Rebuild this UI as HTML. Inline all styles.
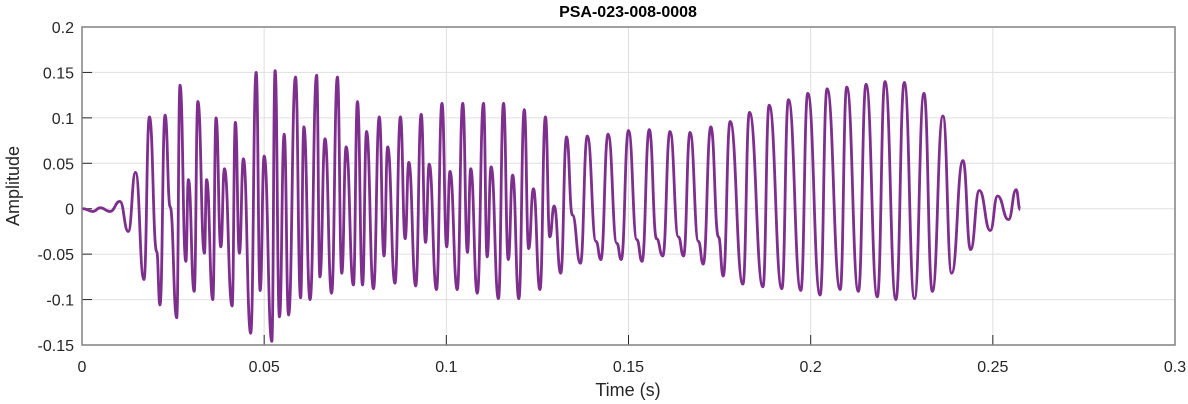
<!DOCTYPE html>
<html><head><meta charset="utf-8"><style>
body{margin:0;background:#fff;width:1188px;height:404px;overflow:hidden}
svg{display:block;font-family:"Liberation Sans",Arial,sans-serif}
</style></head><body>
<svg id="chart" width="1188" height="404"></svg>
<script>
const xTicks=[0,0.05,0.1,0.15,0.2,0.25,0.3];
const xTickLabels=["0","0.05","0.1","0.15","0.2","0.25","0.3"];
const yTicks=[0.2,0.15,0.1,0.05,0,-0.05,-0.1,-0.15];
const yTickLabels=["0.2","0.15","0.1","0.05","0","-0.05","-0.1","-0.15"];
const times=[0.0002,0.0030,0.0050,0.0077,0.0104,0.0127,0.0147,0.0170,0.0185,0.0205,0.0214,0.0228,0.0242,0.0260,0.0269,0.0285,0.0292,0.0308,0.0318,0.0336,0.0342,0.0359,0.0368,0.0381,0.0391,0.0412,0.0421,0.0432,0.0443,0.0463,0.0478,0.0489,0.0500,0.0521,0.0530,0.0542,0.0555,0.0567,0.0586,0.0600,0.0609,0.0626,0.0644,0.0653,0.0667,0.0685,0.0701,0.0713,0.0725,0.0745,0.0756,0.0770,0.0781,0.0800,0.0816,0.0829,0.0839,0.0859,0.0874,0.0887,0.0897,0.0916,0.0931,0.0943,0.0953,0.0973,0.0988,0.1001,0.1010,0.1030,0.1045,0.1058,0.1067,0.1085,0.1102,0.1112,0.1123,0.1143,0.1157,0.1170,0.1182,0.1199,0.1214,0.1226,0.1239,0.1257,0.1272,0.1284,0.1296,0.1314,0.1330,0.1346,0.1368,0.1387,0.1411,0.1424,0.1444,0.1468,0.1480,0.1500,0.1523,0.1537,0.1557,0.1577,0.1594,0.1614,0.1637,0.1651,0.1669,0.1692,0.1705,0.1726,0.1747,0.1760,0.1779,0.1814,0.1832,0.1869,0.1886,0.1921,0.1939,0.1973,0.1992,0.2026,0.2045,0.2081,0.2099,0.2131,0.2152,0.2183,0.2204,0.2234,0.2257,0.2285,0.2311,0.2334,0.2363,0.2387,0.2418,0.2439,0.2463,0.2493,0.2513,0.2543,0.2564,0.2575];
const amps=[0.000,-0.003,0.001,-0.003,0.008,-0.025,0.040,-0.078,0.101,-0.047,-0.106,0.103,0.002,-0.120,0.136,-0.058,0.032,-0.091,0.118,-0.049,0.032,-0.100,0.100,-0.042,0.044,-0.107,0.095,-0.049,0.055,-0.137,0.150,-0.090,0.058,-0.146,0.152,-0.119,0.082,-0.117,0.145,-0.098,0.090,-0.100,0.147,-0.075,0.077,-0.093,0.145,-0.071,0.068,-0.084,0.118,-0.084,0.085,-0.088,0.101,-0.052,0.068,-0.082,0.101,-0.033,0.051,-0.085,0.104,-0.037,0.049,-0.089,0.116,-0.042,0.041,-0.089,0.116,-0.048,0.044,-0.093,0.116,-0.053,0.046,-0.099,0.116,-0.056,0.037,-0.099,0.109,-0.044,0.022,-0.089,0.101,-0.031,0.003,-0.071,0.079,-0.007,-0.060,0.080,-0.036,-0.056,0.082,-0.038,-0.056,0.086,-0.034,-0.058,0.087,-0.033,-0.052,0.085,-0.031,-0.052,0.084,-0.036,-0.061,0.090,-0.031,-0.074,0.096,-0.083,0.106,-0.086,0.114,-0.088,0.120,-0.090,0.127,-0.095,0.132,-0.089,0.134,-0.091,0.137,-0.097,0.140,-0.100,0.139,-0.099,0.127,-0.091,0.102,-0.071,0.053,-0.045,0.020,-0.024,0.014,-0.012,0.021,-0.001];

const NS="http://www.w3.org/2000/svg";
const svg=document.getElementById('chart');
const L=82,R=1175,T=27,B=345;
const xMin=0,xMax=0.3,yMin=-0.15,yMax=0.2;
function xs(v){return L+(v-xMin)/(xMax-xMin)*(R-L);}
function ys(v){return B-(v-yMin)/(yMax-yMin)*(B-T);}
function mk(tag,attrs){const e=document.createElementNS(NS,tag);for(const k in attrs)e.setAttribute(k,attrs[k]);svg.appendChild(e);return e;}

const bg=mk('rect',{x:L,y:T,width:R-L,height:B-T,fill:'#fff'});



xTicks.forEach((v,i)=>{
  const g=mk('line',{x1:xs(v),x2:xs(v),y1:T,y2:B,stroke:'#dfdfdf','stroke-width':1});
  
  
  const tk=mk('line',{x1:xs(v),x2:xs(v),y1:B,y2:B-10,stroke:'#262626','stroke-width':1});
  
  
  const t=mk('text',{x:xs(v),y:372,'text-anchor':'middle','font-size':16,fill:'#262626'});
  t.textContent=xTickLabels[i];
  
  
});
yTicks.forEach((v,i)=>{
  const g=mk('line',{x1:L,x2:R,y1:ys(v),y2:ys(v),stroke:'#dfdfdf','stroke-width':1});
  
  
  const tk=mk('line',{x1:L,x2:L+10,y1:ys(v),y2:ys(v),stroke:'#262626','stroke-width':1});
  
  
  const t=mk('text',{x:74,y:ys(v)+6,'text-anchor':'end','font-size':16,fill:'#262626'});
  t.textContent=yTickLabels[i];
  
  
});

const frame=mk('rect',{x:L,y:T,width:R-L,height:B-T,fill:'none',stroke:'#808080','stroke-width':1.5});



let d='M'+xs(times[0]).toFixed(2)+','+ys(amps[0]).toFixed(2);
for(let i=1;i<times.length;i++){
  const x0=xs(times[i-1]),y0=ys(amps[i-1]),x1=xs(times[i]),y1=ys(amps[i]);
  const h=(x1-x0)/2;
  d+=' C'+(x0+h).toFixed(2)+','+y0.toFixed(2)+' '+(x1-h).toFixed(2)+','+y1.toFixed(2)+' '+x1.toFixed(2)+','+y1.toFixed(2);
}
const line=mk('path',{d:d,fill:'none',stroke:'#7E2F8E','stroke-width':2.8,'stroke-linejoin':'round'});



const title=mk('text',{x:628,y:17,'text-anchor':'middle','font-size':16,'font-weight':'bold',fill:'#000'});
title.textContent='PSA-023-008-0008';


const xl=mk('text',{x:628,y:396,'text-anchor':'middle','font-size':18,fill:'#262626'});
xl.textContent='Time (s)';


const yl=mk('text',{x:0,y:0,'text-anchor':'middle','font-size':18,fill:'#262626',transform:'translate(19,186) rotate(-90)'});
yl.textContent='Amplitude';


</script>
</body></html>
